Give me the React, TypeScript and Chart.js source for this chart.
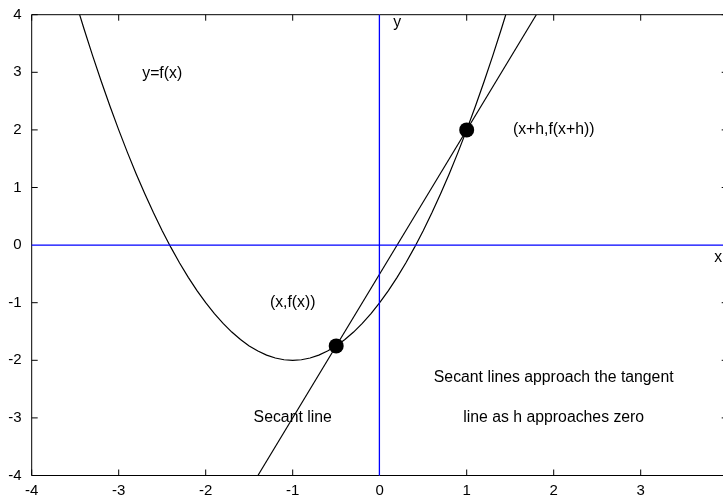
import React, { useEffect, useRef } from "react";
import { Chart, registerables } from "chart.js";

Chart.register(...registerables);

// y = f(x) curve samples
const curveX = [
  -3.5, -3.4, -3.3, -3.2, -3.1, -3.0, -2.9, -2.8, -2.7, -2.6, -2.5, -2.4, -2.3, -2.2, -2.1,
  -2.0, -1.9, -1.8, -1.7, -1.6, -1.5, -1.4, -1.3, -1.2, -1.1, -1.0, -0.9, -0.8, -0.7, -0.6,
  -0.5, -0.4, -0.3, -0.2, -0.1, 0.0, 0.1, 0.2, 0.3, 0.4, 0.5, 0.6, 0.7, 0.8, 0.9, 1.0, 1.1,
  1.2, 1.3, 1.4, 1.5,
];
const curveY = [
  4.25, 3.76, 3.29, 2.84, 2.41, 2.0, 1.61, 1.24, 0.89, 0.56, 0.25, -0.04, -0.31, -0.56, -0.79,
  -1.0, -1.19, -1.36, -1.51, -1.64, -1.75, -1.84, -1.91, -1.96, -1.99, -2.0, -1.99, -1.96, -1.91,
  -1.84, -1.75, -1.64, -1.51, -1.36, -1.19, -1.0, -0.79, -0.56, -0.31, -0.04, 0.25, 0.56, 0.89,
  1.24, 1.61, 2.0, 2.41, 2.84, 3.29, 3.76, 4.25,
];

// secant line
const secantX = [-1.4, 1.8];
const secantY = [-4, 4];

// marked points
const pointX = [-0.5, 1];
const pointY = [-1.75, 2];

// ticks
const xTicks = [-4, -3, -2, -1, 0, 1, 2, 3, 4];
const yTicks = [-4, -3, -2, -1, 0, 1, 2, 3, 4];

// text labels
const labelTexts = [
  "y=f(x)",
  "(x+h,f(x+h))",
  "(x,f(x))",
  "Secant line",
  "Secant lines approach the tangent",
  "line as h approaches zero",
  "x",
  "y",
];
const labelX = [-2.5, 2.0, -1.0, -1.0, 2.0, 2.0, 3.89, 0.2];
const labelY = [2.97, 2.0, -1.0, -3.0, -2.3, -3.0, -0.22, 3.86];

const FONT = '"Liberation Sans", Arial, Helvetica, sans-serif';
const AXIS_COLOR = "#0000ff";

const framePlugin = {
  id: "gnuplotFrame",
  afterDraw(chart: any) {
    const { ctx, chartArea } = chart;
    const xs = chart.scales.x;
    const ys = chart.scales.y;
    const { left, right, top, bottom } = chartArea;
    ctx.save();
    ctx.strokeStyle = "#000";
    ctx.lineWidth = 1;
    ctx.beginPath();
    ctx.rect(left, top, right - left, bottom - top);
    ctx.stroke();
    const tl = 6;
    ctx.beginPath();
    xTicks.forEach((v) => {
      if (v === 0) return;
      const px = xs.getPixelForValue(v);
      ctx.moveTo(px, bottom);
      ctx.lineTo(px, bottom - tl);
      ctx.moveTo(px, top);
      ctx.lineTo(px, top + tl);
    });
    yTicks.forEach((v) => {
      if (v === 0) return;
      const py = ys.getPixelForValue(v);
      ctx.moveTo(left, py);
      ctx.lineTo(left + tl, py);
      ctx.moveTo(right, py);
      ctx.lineTo(right - tl, py);
    });
    ctx.stroke();

    // zero axes
    const x0 = xs.getPixelForValue(0) - 0.3;
    const y0 = ys.getPixelForValue(0);
    ctx.strokeStyle = AXIS_COLOR;
    ctx.lineWidth = 1.3;
    ctx.beginPath();
    ctx.moveTo(x0, top);
    ctx.lineTo(x0, bottom);
    ctx.moveTo(left, y0);
    ctx.lineTo(right, y0);
    ctx.stroke();

    ctx.fillStyle = "#000";
    ctx.font = `15.8px ${FONT}`;
    ctx.textAlign = "center";
    ctx.textBaseline = "middle";
    labelTexts.forEach((t, i) => {
      ctx.fillText(t, xs.getPixelForValue(labelX[i]), ys.getPixelForValue(labelY[i]));
    });
    ctx.restore();
  },
};

const zeroPad = (s: any) => {
  s.paddingTop = 0;
  s.paddingBottom = 0;
  s.paddingLeft = 0;
  s.paddingRight = 0;
};

export default function App() {
  const ref = useRef<HTMLCanvasElement | null>(null);

  useEffect(() => {
    if (!ref.current) return;
    const chart = new Chart(ref.current, {
      type: "scatter",
      data: {
        datasets: [
          {
            data: pointX.map((x, i) => ({ x, y: pointY[i] })),
            showLine: false,
            pointRadius: 7.5,
            pointBackgroundColor: "#000",
            pointBorderColor: "#000",
            pointBorderWidth: 0,
            order: 0,
          },
          {
            data: curveX.map((x, i) => ({ x, y: curveY[i] })),
            showLine: true,
            borderColor: "#000",
            borderWidth: 1.2,
            pointRadius: 0,
            fill: false,
            order: 1,
          },
          {
            data: secantX.map((x, i) => ({ x, y: secantY[i] })),
            showLine: true,
            borderColor: "#000",
            borderWidth: 1.2,
            pointRadius: 0,
            fill: false,
            order: 2,
          },
        ],
      },
      plugins: [framePlugin],
      options: {
        animation: false,
        responsive: false,
        devicePixelRatio: 1,
        events: [],
        layout: { padding: { top: 14.7, right: 12.3, left: 0, bottom: 0 } },
        plugins: {
          legend: { display: false },
          tooltip: { enabled: false },
          title: { display: false },
        },
        scales: {
          x: {
            type: "linear",
            min: -4,
            max: 4,
            afterBuildTicks: (s: any) => {
              s.ticks = xTicks.map((v) => ({ value: v }));
            },
            afterFit: (s: any) => {
              s.height = 21.5;
              zeroPad(s);
            },
            ticks: {
              font: { family: FONT, size: 15 },
              color: "#000",
              padding: 6,
              maxRotation: 0,
              autoSkip: false,
            },
            grid: { display: false, drawTicks: false },
            border: { display: false },
          },
          y: {
            type: "linear",
            min: -4,
            max: 4,
            afterBuildTicks: (s: any) => {
              s.ticks = yTicks.map((v) => ({ value: v }));
            },
            afterFit: (s: any) => {
              s.width = 31.7;
              zeroPad(s);
            },
            ticks: {
              font: { family: FONT, size: 15 },
              color: "#000",
              padding: 10,
              autoSkip: false,
            },
            grid: { display: false, drawTicks: false },
            border: { display: false },
          },
        },
      },
    } as any);
    return () => chart.destroy();
  }, []);

  return (
    <div
      style={{
        position: "absolute",
        left: 0,
        top: 0,
        width: 723,
        height: 497,
        overflow: "hidden",
        background: "#fff",
      }}
    >
      <canvas ref={ref} width={740} height={497} style={{ display: "block" }} />
    </div>
  );
}
